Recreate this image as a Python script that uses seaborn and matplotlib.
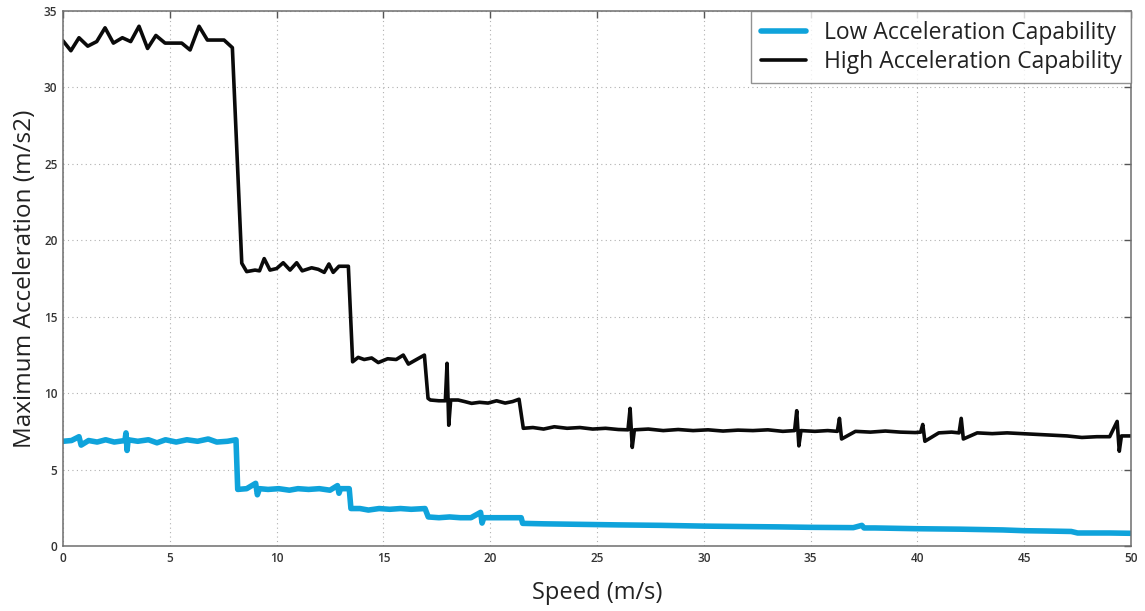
import pandas as pd
import matplotlib
matplotlib.use("Agg")
import matplotlib.pyplot as plt
import seaborn as sns

# ================================================================
# DATA
# ================================================================
high_speed = [0.00, 0.37, 0.75, 1.16, 1.58, 1.97, 2.36, 2.78, 3.17, 3.56, 3.96, 4.35,
              4.78, 5.56, 5.95, 6.37, 6.76, 7.54, 7.93, 8.37, 8.60, 8.99, 9.20, 9.42,
              9.69, 10.00, 10.31, 10.63, 10.94, 11.20, 11.64, 11.95, 12.23, 12.45, 12.65,
              12.92, 13.36, 13.56, 13.82, 14.10, 14.45, 14.76, 15.20, 15.60, 15.93, 16.17,
              16.55, 16.92, 17.09, 17.20, 17.60, 17.90, 17.98, 18.06, 18.15, 18.50, 18.80,
              19.13, 19.50, 19.90, 20.30, 20.70, 21.05, 21.35, 21.55, 22.00, 22.50, 23.00,
              23.60, 24.20, 24.80, 25.40, 26.00, 26.45, 26.55, 26.65, 26.75, 27.40, 28.10,
              28.80, 29.50, 30.20, 30.90, 31.60, 32.30, 33.00, 33.70, 34.25, 34.35, 34.45,
              34.55, 35.20, 35.80, 36.25, 36.35, 36.45, 37.10, 37.80, 38.50, 39.20, 39.90,
              40.15, 40.25, 40.35, 41.00, 41.60, 41.95, 42.05, 42.15, 42.80, 43.50, 44.20,
              44.90, 45.60, 46.30, 47.00, 47.70, 48.40, 49.00, 49.35, 49.45, 49.55, 50.00]
high_acc = [33.05, 32.40, 33.25, 32.70, 33.00, 33.90, 32.90, 33.25, 33.00, 34.00, 32.55, 33.40,
            32.90, 32.90, 32.45, 34.00, 33.10, 33.10, 32.60, 18.50, 17.95, 18.05, 18.00, 18.80,
            18.05, 18.15, 18.53, 18.05, 18.53, 18.00, 18.20, 18.10, 17.90, 18.45, 17.90,
            18.30, 18.30, 12.05, 12.34, 12.20, 12.30, 12.00, 12.25, 12.20, 12.49, 11.90,
            12.20, 12.49, 9.66, 9.55, 9.50, 9.50, 11.95, 7.90, 9.55, 9.55, 9.45,
            9.33, 9.40, 9.35, 9.50, 9.35, 9.45, 9.60, 7.70, 7.75, 7.65, 7.80,
            7.70, 7.75, 7.65, 7.70, 7.62, 7.60, 9.00, 6.45, 7.60, 7.65, 7.55,
            7.62, 7.55, 7.60, 7.52, 7.58, 7.55, 7.60, 7.50, 7.55, 8.85, 6.55,
            7.55, 7.50, 7.55, 7.50, 8.35, 7.00, 7.50, 7.45, 7.52, 7.45, 7.42,
            7.45, 7.95, 6.85, 7.40, 7.45, 7.40, 8.35, 7.00, 7.40, 7.35, 7.40,
            7.35, 7.30, 7.25, 7.20, 7.10, 7.15, 7.15, 8.15, 6.20, 7.20, 7.20]

low_speed = [0.00, 0.40, 0.75, 0.85, 1.20, 1.60, 2.00, 2.40, 2.90, 2.95, 3.00, 3.05,
             3.50, 4.00, 4.40, 4.80, 5.30, 5.80, 6.30, 6.80, 7.20, 7.70, 8.10, 8.18,
             8.60, 9.02, 9.10, 9.20, 9.60, 10.10, 10.60, 11.00, 11.50, 12.00, 12.50,
             12.85, 12.92, 13.00, 13.40, 13.48, 13.90, 14.30, 14.80, 15.30, 15.80, 16.30,
             16.95, 17.10, 17.60, 18.10, 18.60, 19.10, 19.55, 19.62, 19.70, 20.20, 20.80,
             21.45, 21.52, 22.50, 24.00, 26.00, 28.00, 30.00, 32.00, 33.50, 35.00, 37.00,
             37.40, 37.50, 38.00, 40.00, 42.00, 44.00, 45.00, 46.00, 47.20, 47.50, 49.00,
             50.00]
low_acc = [6.85, 6.90, 7.15, 6.60, 6.90, 6.80, 6.95, 6.80, 6.90, 7.40, 6.25, 6.95,
           6.85, 6.95, 6.75, 6.95, 6.80, 6.95, 6.85, 7.00, 6.80, 6.85, 6.95, 3.70,
           3.75, 4.10, 3.35, 3.75, 3.70, 3.75, 3.65, 3.75, 3.70, 3.75, 3.65,
           3.95, 3.45, 3.75, 3.75, 2.45, 2.45, 2.35, 2.45, 2.40, 2.45, 2.40,
           2.45, 1.90, 1.85, 1.90, 1.85, 1.85, 2.20, 1.50, 1.85, 1.85, 1.85,
           1.85, 1.48, 1.45, 1.42, 1.38, 1.35, 1.30, 1.27, 1.25, 1.22, 1.20,
           1.35, 1.18, 1.18, 1.13, 1.10, 1.05, 1.00, 0.98, 0.95, 0.85, 0.85,
           0.83]

x_ticks = [0, 5, 10, 15, 20, 25, 30, 35, 40, 45, 50]
y_ticks = [0, 5, 10, 15, 20, 25, 30, 35]

LOW_COLOR = "#0fa3db"
HIGH_COLOR = "#0a0a0a"

# ================================================================
# PLOT
# ================================================================
sns.set_style("white")
plt.rcParams["font.family"] = ["Open Sans", "DejaVu Sans"]

fig = plt.figure(figsize=(11.45, 6.11), dpi=100)
ax = fig.add_axes([0.055, 0.1064, 0.9328, 0.8756])

df_low = pd.DataFrame({"speed": low_speed, "acc": low_acc})
df_high = pd.DataFrame({"speed": high_speed, "acc": high_acc})

sns.lineplot(data=df_low, x="speed", y="acc", estimator=None, sort=False,
             color=LOW_COLOR, lw=4.0, label="Low Acceleration Capability", ax=ax)
sns.lineplot(data=df_high, x="speed", y="acc", estimator=None, sort=False,
             color=HIGH_COLOR, lw=2.6, label="High Acceleration Capability", ax=ax)

ax.set_xlim(0, 50)
ax.set_ylim(0, 35)
ax.set_xticks(x_ticks)
ax.set_yticks(y_ticks)
ax.tick_params(direction="in", length=5, width=1, color="#555555",
               top=True, right=True, labelsize=8.5, labelcolor="#333333", pad=4)
for lab in ax.get_xticklabels() + ax.get_yticklabels():
    lab.set_fontweight("semibold")

ax.grid(True, linestyle=(0, (1, 3)), color="#b0b0b0", lw=0.8)
for sp in ax.spines.values():
    sp.set_color("#6e6e6e")
    sp.set_linewidth(1.1)

ax.set_xlabel("Speed (m/s)", fontsize=17, color="#222222", labelpad=12)
ax.set_ylabel("Maximum Acceleration (m/s2)", fontsize=17.5, color="#222222", labelpad=5)

leg = ax.legend(loc="upper right", borderaxespad=0, fancybox=False, frameon=True,
                edgecolor="#777777", fontsize=16.5, handlelength=2.0,
                borderpad=0.42, labelspacing=0.22, handletextpad=0.75)
leg.get_frame().set_linewidth(1.0)
for t in leg.get_texts():
    t.set_color("#222222")

fig.savefig("out.png", dpi=100)
plt.close(fig)
